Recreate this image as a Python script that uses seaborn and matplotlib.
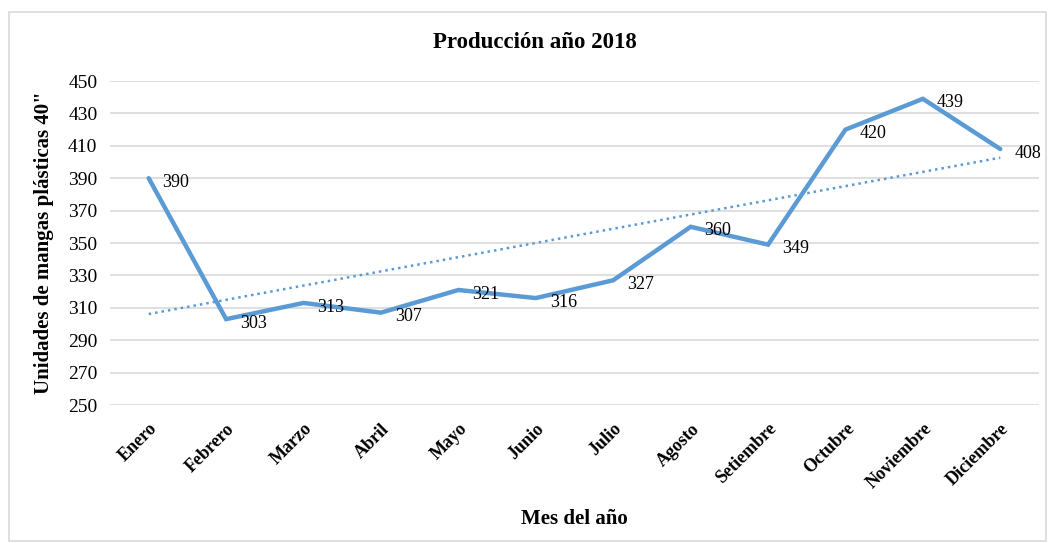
import numpy as np
import pandas as pd
import matplotlib
matplotlib.use("Agg")
import matplotlib.pyplot as plt
import seaborn as sns
from matplotlib.patches import Rectangle

meses = ["Enero", "Febrero", "Marzo", "Abril", "Mayo", "Junio", "Julio",
         "Agosto", "Setiembre", "Octubre", "Noviembre", "Diciembre"]
produccion = [390, 303, 313, 307, 321, 316, 327, 360, 349, 420, 439, 408]
yticks = [250, 270, 290, 310, 330, 350, 370, 390, 410, 430, 450]

sns.set_theme(style="white")
plt.rcParams['font.family'] = ['Liberation Serif', 'DejaVu Serif']
plt.rcParams['text.color'] = 'black'
plt.rcParams['axes.labelcolor'] = 'black'
plt.rcParams['xtick.color'] = 'black'
plt.rcParams['ytick.color'] = 'black'

df = pd.DataFrame({"mes": meses, "valor": produccion})
df["idx"] = np.arange(len(meses))

fig = plt.figure(figsize=(10.48, 5.43), dpi=100)
ax = fig.add_axes([110/1048, 1 - 405/543, (1039-110)/1048, (405-81)/543])

color = "#5B9BD5"
sns.lineplot(data=df, x="idx", y="valor", ax=ax, color=color, linewidth=3.2,
             sort=False, solid_joinstyle="miter")

# linear trendline
coef = np.polyfit(df["idx"], df["valor"], 1)
trend = np.polyval(coef, df["idx"])
ax.plot(df["idx"], trend, linestyle=(0, (1, 1.6)), color=color, linewidth=1.8)

for i, v in enumerate(produccion):
    ax.annotate(str(v), (i, v), xytext=(10, -3), textcoords="offset points",
                ha="left", va="center", fontsize=13, color="black")

ax.set_xlim(-0.5, len(meses) - 0.5)
ax.set_ylim(250, 450)
ax.set_yticks(yticks)
ax.set_xticks(range(len(meses)))
ax.set_xticklabels(meses, rotation=45, ha="right", rotation_mode="anchor",
                   fontweight="bold", fontsize=13)
ax.tick_params(axis="y", labelsize=14, length=0, pad=9)
ax.tick_params(axis="x", length=0, pad=11)
for y in yticks:
    ax.axhline(y, color="#d9d9d9", linewidth=1.2, zorder=0)
for s in ax.spines.values():
    s.set_visible(False)

ax.set_xlabel("Mes del año", fontsize=15, fontweight="bold", labelpad=12)
ax.set_ylabel('Unidades de mangas plásticas 40"', fontsize=15, fontweight="bold", labelpad=10)
fig.text(535/1048, 1 - 43/543, "Producción año 2018", ha="center", va="center",
         fontsize=16.5, fontweight="bold")

fig.patches.append(Rectangle((9/1048, 0.003), 1 - 11/1048, 1 - 12/543 - 0.003,
                             transform=fig.transFigure, fill=False,
                             edgecolor="#d9d9d9", linewidth=1.2))

fig.savefig("out.png", dpi=100)
